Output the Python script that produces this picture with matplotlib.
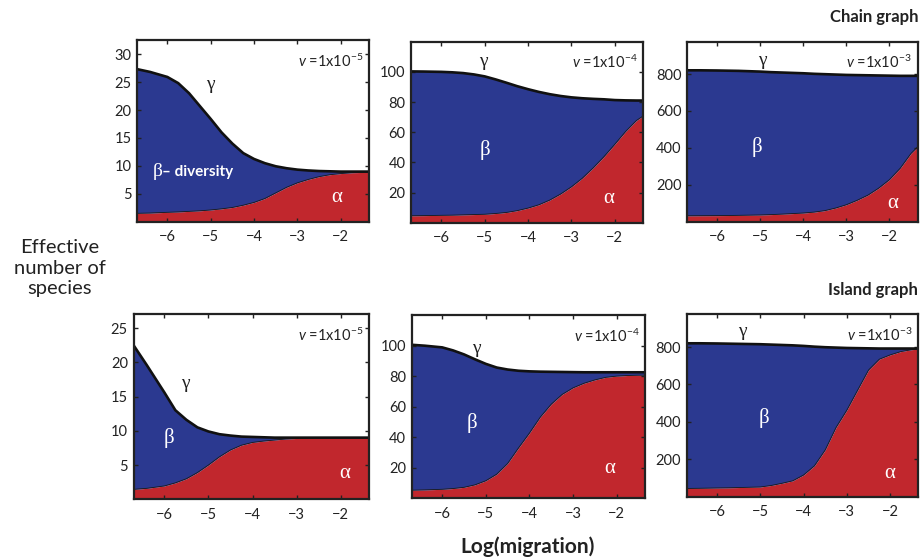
import matplotlib
matplotlib.use("Agg")
import matplotlib.pyplot as plt

plt.rcParams['font.family'] = ['Lato', 'DejaVu Sans']
plt.rcParams['mathtext.fontset'] = 'custom'
plt.rcParams['mathtext.rm'] = 'Lato'
plt.rcParams['mathtext.it'] = 'Lato:italic'

# ---------------- data ----------------
log_m = [-6.7, -6.4, -6.0, -5.75, -5.5, -5.25, -5.0, -4.75, -4.5, -4.25, -4.0,
         -3.75, -3.5, -3.25, -3.0, -2.75, -2.5, -2.25, -2.0, -1.75, -1.5, -1.35]

# Chain graph
chain_gamma_5 = [27.3, 26.8, 25.9, 24.8, 23.0, 20.7, 18.4, 16.0, 14.0, 12.3, 11.25,
                 10.5, 9.95, 9.6, 9.35, 9.2, 9.1, 9.05, 9.0, 9.0, 9.0, 9.0]
chain_alpha_5 = [1.55, 1.6, 1.73, 1.8, 1.9, 2.0, 2.15, 2.35, 2.6, 3.0, 3.5,
                 4.2, 5.2, 6.2, 7.0, 7.6, 8.1, 8.45, 8.65, 8.8, 8.85, 8.9]
chain_gamma_4 = [100.3, 100.2, 100.0, 99.7, 99.2, 98.3, 97.0, 95.0, 92.8, 90.5, 88.5,
                 86.7, 85.2, 84.0, 83.1, 82.5, 82.1, 81.8, 81.3, 81.1, 81.0, 81.0]
chain_alpha_4 = [4.6, 4.7, 4.9, 5.0, 5.2, 5.4, 5.6, 6.1, 6.8, 8.0, 9.7,
                 11.9, 15.0, 19.0, 23.8, 29.5, 36.3, 43.8, 52.0, 60.5, 67.8, 70.7]
chain_gamma_3 = [820, 820, 819, 818, 817, 815, 813, 810, 808, 806, 804,
                 801, 799, 797, 795, 794, 793, 792, 791, 790, 790, 790]
chain_alpha_3 = [32, 32.5, 33, 33.5, 34.5, 35.5, 36.5, 38.5, 41, 44, 47,
                 52, 60, 74, 92, 116, 144, 182, 228, 290, 370, 405]

# Island graph
island_gamma_5 = [22.5, 19.6, 15.6, 13.0, 11.6, 10.5, 9.9, 9.5, 9.3, 9.15, 9.1,
                  9.05, 9.0, 9.0, 9.0, 9.0, 9.0, 9.0, 9.0, 9.0, 9.0, 9.0]
island_alpha_5 = [1.45, 1.6, 1.95, 2.4, 3.0, 3.9, 5.0, 6.2, 7.2, 7.9, 8.3,
                  8.5, 8.65, 8.8, 8.88, 8.92, 8.94, 8.95, 8.95, 8.95, 8.95, 8.95]
island_gamma_4 = [100.5, 99.9, 98.8, 96.8, 94.2, 91.0, 88.0, 85.6, 84.3, 83.5, 83.1,
                  82.9, 82.8, 82.7, 82.6, 82.5, 82.5, 82.5, 82.5, 82.5, 82.5, 82.5]
island_alpha_4 = [5.3, 5.5, 5.9, 6.4, 7.2, 8.8, 11.5, 15.8, 22.8, 33.0, 42.7,
                  53.2, 61.6, 68.0, 72.3, 75.3, 77.5, 79.2, 80.0, 80.4, 80.6, 80.6]
island_gamma_3 = [820, 820, 819, 818, 817, 816, 815, 813, 811, 809, 806,
                  802, 799, 797, 795, 794, 793, 792, 792, 792, 792, 792]
island_alpha_3 = [44, 45, 46.7, 47.5, 49, 50.5, 52, 60, 71.6, 85, 116,
                  165, 250, 370, 463, 570, 677, 735, 758, 776, 786, 789]

x_ticks = [-6, -5, -4, -3, -2]
y_ticks_5 = [5, 10, 15, 20, 25, 30]
y_ticks_5i = [5, 10, 15, 20, 25]
y_ticks_4 = [20, 40, 60, 80, 100]
y_ticks_3 = [200, 400, 600, 800]
v_exponents = ["-5", "-4", "-3"]

BLUE = "#2B3990"
RED = "#C1272D"

W, H = 922, 559
fig = plt.figure(figsize=(W / 100, H / 100), dpi=100)


def add_axes(l, r, t, b):
    return fig.add_axes([l / W, 1 - b / H, (r - l) / W, (b - t) / H])


def panel(ax, gamma, alpha, ylim, yticks, vexp, lab):
    ax.fill_between(log_m, 0, alpha, color=RED, lw=0)
    ax.fill_between(log_m, alpha, gamma, color=BLUE, lw=0)
    ax.plot(log_m, alpha, color="#1a1a1a", lw=0.6)
    ax.plot(log_m, gamma, color="#111111", lw=1.9, solid_capstyle='butt')
    ax.set_xlim(-6.7, -1.35)
    ax.set_ylim(*ylim)
    ax.set_xticks(x_ticks)
    ax.set_yticks(yticks)
    for s in ax.spines.values():
        s.set_linewidth(1.6)
        s.set_color("#222222")
    ax.tick_params(direction="in", top=True, right=True, length=3, width=1,
                   labelsize=10.5, colors="#222222")
    ax.tick_params(axis="x", pad=6)
    ax.tick_params(axis="y", pad=4)
    ax.text(0.975, 0.885, r"$\mathit{v}$ =1x10$^{" + vexp + "}$", transform=ax.transAxes,
            ha="right", va="center", fontsize=10.5, color="#222222")
    gfam = ["Liberation Serif", "DejaVu Serif"]
    ax.text(*lab["g"], "γ", family=gfam, fontsize=14, ha="center", va="center", color="#222222")
    ax.text(*lab["a"], "α", family=gfam, fontsize=15, ha="center", va="center", color="white")
    if "b" in lab:
        ax.text(*lab["b"], "β", family=gfam, fontsize=15, ha="center", va="center", color="white")


ax00 = add_axes(137, 369, 40, 222)
panel(ax00, chain_gamma_5, chain_alpha_5, (0, 32.5), y_ticks_5, v_exponents[0],
      {"g": (-5.0, 24.6), "a": (-2.1, 4.3)})
ax00.text(-6.22, 9.0, "β", family=["Liberation Serif", "DejaVu Serif"], fontsize=14,
          ha="center", va="center", color="white")
ax00.text(-6.12, 9.0, "– diversity", fontsize=11, fontweight="bold",
          ha="left", va="center", color="white")

ax01 = add_axes(411, 643, 41.7, 222.7)
panel(ax01, chain_gamma_4, chain_alpha_4, (0, 120), y_ticks_4, v_exponents[1],
      {"g": (-5.04, 107), "b": (-5.0, 48), "a": (-2.14, 16)})

ax02 = add_axes(687, 917.5, 41.7, 221.7)
panel(ax02, chain_gamma_3, chain_alpha_3, (0, 975), y_ticks_3, v_exponents[2],
      {"g": (-4.94, 871), "b": (-5.08, 406), "a": (-1.93, 100)})

ax10 = add_axes(133.5, 369.3, 314.3, 499.3)
panel(ax10, island_gamma_5, island_alpha_5, (0, 27), y_ticks_5i, v_exponents[0],
      {"g": (-5.52, 16.9), "b": (-5.89, 8.9), "a": (-1.9, 3.7)})

ax11 = add_axes(411.7, 645, 315, 498.3)
panel(ax11, island_gamma_4, island_alpha_4, (0, 120), y_ticks_4, v_exponents[1],
      {"g": (-5.22, 98.2), "b": (-5.33, 49), "a": (-2.15, 19.6)})

ax12 = add_axes(686.7, 918.3, 314.3, 496.7)
panel(ax12, island_gamma_3, island_alpha_3, (0, 975), y_ticks_3, v_exponents[2],
      {"g": (-5.42, 884), "b": (-4.92, 420), "a": (-2.0, 125)})

fig.text(918 / W, 1 - 16.7 / H, "Chain graph", ha="right", va="center",
         fontsize=12, fontweight="bold", color="#222222")
fig.text(918 / W, 1 - 290 / H, "Island graph", ha="right", va="center",
         fontsize=12, fontweight="bold", color="#222222")
fig.text(60 / W, 1 - 268 / H, "Effective\nnumber of\nspecies", ha="center", va="center",
         fontsize=14.5, linespacing=1.25, color="#222222")
fig.text(528 / W, 1 - 546.7 / H, "Log(migration)", ha="center", va="center",
         fontsize=15, fontweight="bold", color="#222222")

fig.savefig("out.png", dpi=100)
